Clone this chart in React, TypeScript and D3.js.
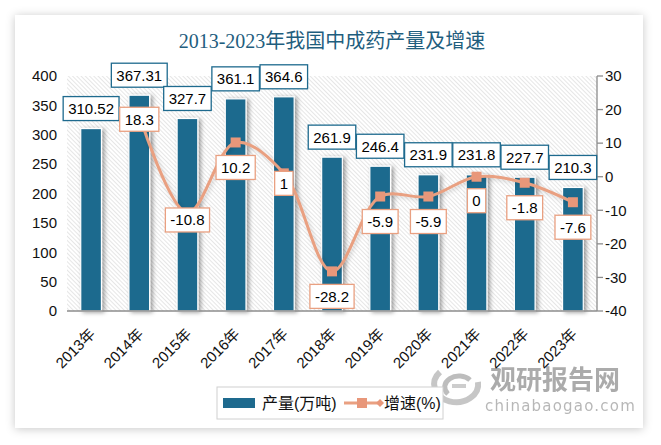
import React from "react"
import * as d3 from "d3"

// data
const years = ["2013年", "2014年", "2015年", "2016年", "2017年", "2018年", "2019年", "2020年", "2021年", "2022年", "2023年"]
const output = [310.52, 367.31, 327.7, 361.1, 364.6, 261.9, 246.4, 231.9, 231.8, 227.7, 210.3]
const growth: (number | null)[] = [null, 18.3, -10.8, 10.2, 1, -28.2, -5.9, -5.9, 0, -1.8, -7.6]
const leftTicks = [0, 50, 100, 150, 200, 250, 300, 350, 400]
const rightTicks = [-40, -30, -20, -10, 0, 10, 20, 30]

const title = "2013-2023年我国中成药产量及增速"
const legendBar = "产量(万吨)"
const legendLine = "增速(%)"

// where the growth labels sit below their point (px)
const growthLabelDy = [0, 4, 7, 25, 10, 25, 25, 25, 24, 25, 25]

const width = 661
const height = 445
const plot = { left: 67, right: 597, top: 76, bottom: 311 }

const barColor = "#1e6a8e"
const lineColor = "#e9a081"
const markerColor = "#e8977a"
const font = "'Liberation Sans', 'Noto Sans CJK SC', sans-serif"

// rough Liberation Sans widths at 15px
const textWidth = (s: string) =>
  s.split("").reduce((w, c) => w + (c === "." ? 4.17 : c === "-" ? 5 : 8.34), 0)

function App() {
  const x = d3.scaleBand().domain(years).range([plot.left, plot.right])
  const yL = d3.scaleLinear().domain([0, 400]).range([plot.bottom, plot.top])
  const yR = d3.scaleLinear().domain([-40, 30]).range([plot.bottom, plot.top])
  const barW = x.bandwidth() * 0.43
  const cx = (i: number) => (x(years[i]) as number) + x.bandwidth() / 2

  const pts = growth
    .map((g, i) => (g === null ? null : ([cx(i), yR(g)] as [number, number])))
  const line = d3.line<[number, number] | null>()
    .defined(d => d !== null)
    .x(d => (d as [number, number])[0])
    .y(d => (d as [number, number])[1])
    .curve(d3.curveCatmullRom.alpha(0.5))

  return (
    <svg width={width} height={height} style={{ position: "absolute", left: 0, top: 0 }}>
      <defs>
        <filter id="cardShadow" x="-10%" y="-10%" width="120%" height="120%">
          <feDropShadow dx="0" dy="1" stdDeviation="5" floodColor="#000" floodOpacity="0.22" />
        </filter>
        <filter id="barShadow" x="-50%" y="-20%" width="200%" height="140%">
          <feDropShadow dx="2.5" dy="1" stdDeviation="2.2" floodColor="#000" floodOpacity="0.38" />
        </filter>
        <filter id="lineShadow" x="-10%" y="-10%" width="120%" height="120%">
          <feDropShadow dx="1.5" dy="1.5" stdDeviation="2" floodColor="#000" floodOpacity="0.18" />
        </filter>
        <pattern id="hatch" width="3" height="3" patternUnits="userSpaceOnUse" patternTransform="rotate(-45)">
          <rect width="3" height="3" fill="#fff" />
          <line x1="0" y1="0" x2="0" y2="3" stroke="#cdcdcd" strokeWidth="1" />
        </pattern>
      </defs>

      <rect x={0} y={0} width={width} height={height} fill="#fff" />
      <rect x={15} y={15} width={628} height={413} fill="#fff" filter="url(#cardShadow)" />

      <text x={332} y={48} textAnchor="middle" fontSize={20}
        fontFamily="'Liberation Serif', 'Noto Sans CJK SC', serif" fill="#1f5e7e">{title}</text>

      <rect x={plot.left} y={plot.top} width={plot.right - plot.left} height={plot.bottom - plot.top} fill="url(#hatch)" />

      {output.map((v, i) => (
        <rect key={"b" + i} x={cx(i) - barW / 2} y={yL(v)} width={barW} height={plot.bottom - yL(v)}
          fill={barColor} stroke="#fff" strokeWidth={1.2} filter="url(#barShadow)" />
      ))}

      <line x1={plot.left} x2={plot.right} y1={plot.bottom} y2={plot.bottom} stroke="#8c8c8c" strokeWidth={1.3} />

      {leftTicks.map(t => (
        <text key={"l" + t} x={57} y={yL(t)} dy="0.35em" textAnchor="end" fontSize={15} fontFamily={font} fill="#111">{t}</text>
      ))}

      <line x1={plot.right} x2={plot.right} y1={plot.top} y2={plot.bottom} stroke="#8c8c8c" strokeWidth={1.3} />
      {rightTicks.map(t => (
        <g key={"r" + t} transform={`translate(${plot.right}, ${yR(t)})`}>
          <line x2={6} stroke="#8c8c8c" strokeWidth={1.3} />
          <text x={8} dy="0.35em" fontSize={15} fontFamily={font} fill="#111">{t}</text>
        </g>
      ))}

      <path d={line(pts) || ""} fill="none" stroke={lineColor} strokeWidth={3} filter="url(#lineShadow)" />
      {pts.map((p, i) => p && (
        <rect key={"m" + i} x={p[0] - 5} y={p[1] - 5} width={10} height={10} fill={markerColor} />
      ))}

      {output.map((v, i) => {
        const s = String(v)
        const w = textWidth(s) + 10
        const cy = yL(v) - 20
        return (
          <g key={"bl" + i}>
            <rect x={cx(i) - w / 2} y={cy - 12} width={w} height={24} fill="#fff" stroke={barColor} strokeWidth={1.3} />
            <text x={cx(i)} y={cy} dy="0.36em" textAnchor="middle" fontSize={15} fontFamily={font} fill="#000">{s}</text>
          </g>
        )
      })}

      {growth.map((g, i) => {
        if (g === null) return null
        const s = String(g)
        const w = textWidth(s) + 10
        const cy = yR(g) + growthLabelDy[i]
        return (
          <g key={"gl" + i}>
            <rect x={cx(i) - w / 2} y={cy - 12} width={w} height={24} fill="#fff" stroke={lineColor} strokeWidth={1.3} />
            <text x={cx(i)} y={cy} dy="0.36em" textAnchor="middle" fontSize={15} fontFamily={font} fill="#000">{s}</text>
          </g>
        )
      })}

      <g opacity={0.75}>
        <path d="M440,372 A22,18 0 1,0 478,382" fill="none" stroke="#b4b4b4" strokeWidth={6} />
        <path d="M448,394 A13,10 0 1,1 470,380" fill="none" stroke="#a8a8a8" strokeWidth={5} />
        <path d="M452,386 L466,386" stroke="#bdbdbd" strokeWidth={4} />
        <text x={490} y={389} fontSize={26} fontWeight="bold" fontFamily="'Noto Sans CJK SC', sans-serif" fill="#8f8f8f">观研报告网</text>
        <text x={485} y={411} fontSize={15} letterSpacing={1.2} fontFamily="'DejaVu Sans', sans-serif" fill="#a0a0a0">chinabaogao.com</text>
      </g>

      {years.map((yr, i) => (
        <text key={"x" + i} transform={`translate(${cx(i) + 5}, 335) rotate(-45)`} textAnchor="end"
          fontSize={15} fontFamily={font} fill="#111">{yr}</text>
      ))}

      <rect x={217} y={387} width={226} height={32} fill="#fff" stroke="#d0d0d0" strokeWidth={1} />
      <rect x={223} y={398} width={32} height={10} fill={barColor} />
      <text x={262} y={403} dy="0.36em" fontSize={16} fontFamily={font} fill="#111">{legendBar}</text>
      <line x1={344} x2={380} y1={403} y2={403} stroke={lineColor} strokeWidth={3} />
      <rect x={357} y={398} width={10} height={10} fill={markerColor} />
      <path d="M380,399 L384,403 L380,407 L376,403 Z" fill={markerColor} />
      <text x={384} y={403} dy="0.36em" fontSize={16} fontFamily={font} fill="#111">{legendLine}</text>
    </svg>
  )
}

export default App
